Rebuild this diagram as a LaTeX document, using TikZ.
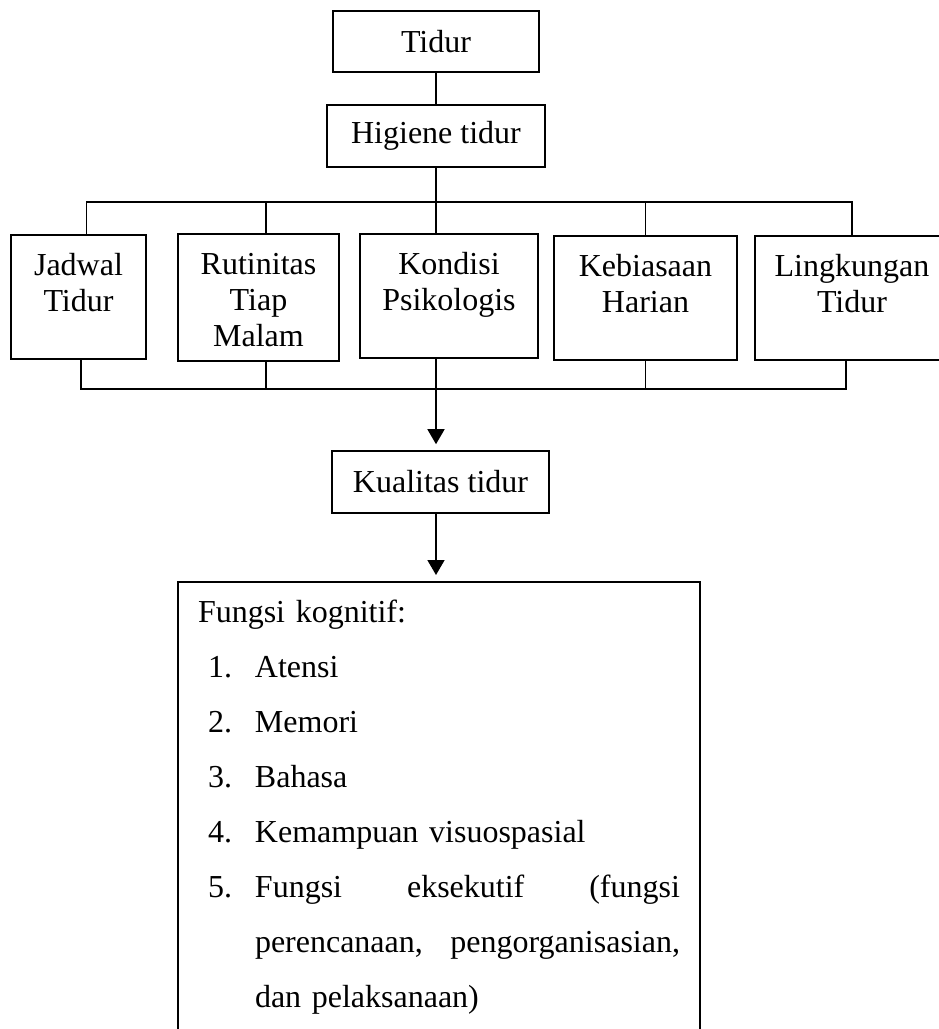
\documentclass[tikz,border=0pt]{standalone}
\usepackage{fontspec}
\setmainfont{Liberation Serif}
\usetikzlibrary{positioning, arrows.meta}

\newcommand{\butir}[2]{\makebox[28.5pt][l]{\hspace*{5pt}#1}#2}

\begin{document}
\begin{tikzpicture}[x=0.5pt, y=-0.5pt, line width=0.8pt,
	font=\fontsize{16pt}{18pt}\selectfont,
	judul/.style={draw, inner sep=0pt, minimum height=31pt},
	kotak/.style={draw, align=center, inner sep=0pt, anchor=north, text height=38.5pt, text depth=23.5pt},
	panah/.style={-{Triangle[length=7.5pt, width=8.5pt]}, shorten >=3pt}]
	\useasboundingbox (0,0) rectangle (938,1029);
	\node (tidur) [judul, minimum width=103pt, minimum height=30.5pt] at (436,41.5) {Tidur};
	\node (higiene) [judul, minimum width=109pt] at (436,136) {Higiene tidur};
	\node (jadwal) [kotak, minimum width=67.5pt] at (78.5,234) {Jadwal\\Tidur};
	\node (rutinitas) [kotak, minimum width=80.5pt, text height=56.5pt, text depth=7pt] at (258.5,233) {Rutinitas\\Tiap\\Malam};
	\node (kondisi) [kotak, minimum width=89pt] at (449,233) {Kondisi\\Psikologis};
	\node (kebiasaan) [kotak, minimum width=91.5pt] at (645.5,235) {Kebiasaan\\Harian};
	\node (lingkungan) [kotak, minimum width=97pt] at (852,235) {Lingkungan\\Tidur};
	\node (kualitas) [judul, minimum width=108.5pt] at (440.5,482) {Kualitas tidur};
	\node (kognitif) [draw, anchor=north, text width=241pt, align=left, inner xsep=10pt, inner ysep=0pt,
		text height=20.5pt, text depth=240pt, font=\fontsize{16pt}{27.5pt}\selectfont] at (439,581) {%
		Fungsi kognitif:\\
		\butir{1.}{Atensi}\\
		\butir{2.}{Memori}\\
		\butir{3.}{Bahasa}\\
		\butir{4.}{Kemampuan visuospasial}\\
		\butir{5.}{\makebox[212.5pt][l]{Fungsi\hfill eksekutif\hfill (fungsi}}\\
		\hspace*{28.5pt}\makebox[212.5pt][l]{perencanaan,\hfill pengorganisasian,}\\
		\hspace*{28.5pt}dan pelaksanaan)};
	\coordinate (atas) at (436,202);
	\coordinate (bawah) at (436,389);
	% garis ke atas
	\draw (tidur.south) -- (higiene.north);
	\draw (higiene.south) -- (atas);
	\draw ([xshift=4pt]jadwal.north) |- (atas) -| (lingkungan.north);
	\draw ([xshift=3.75pt]rutinitas.north) -- ([xshift=3.75pt]rutinitas.north |- atas);
	\draw (kebiasaan.north) -- (kebiasaan.north |- atas);
	\draw (kondisi.north -| atas) -- (atas);
	% garis ke bawah
	\draw ([xshift=1.25pt]jadwal.south) |- (bawah) -| ([xshift=-3pt]lingkungan.south);
	\draw ([xshift=3.75pt]rutinitas.south) -- ([xshift=3.75pt]rutinitas.south |- bawah);
	\draw (kebiasaan.south) -- (kebiasaan.south |- bawah);
	\draw [panah] (kondisi.south -| bawah) -- (kualitas.north -| bawah);
	\draw [panah] (kualitas.south -| bawah) -- (kognitif.north -| bawah);
\end{tikzpicture}
\end{document}
